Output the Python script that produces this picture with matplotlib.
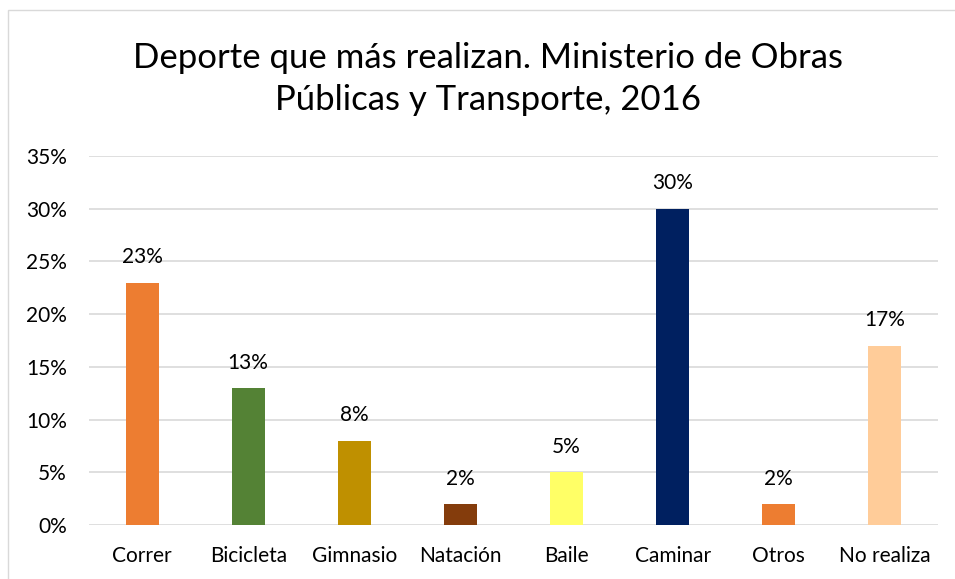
import matplotlib
matplotlib.use("Agg")
import matplotlib.pyplot as plt
from matplotlib.patches import Rectangle
from matplotlib.ticker import PercentFormatter

categories = ["Correr", "Bicicleta", "Gimnasio", "Natación", "Baile", "Caminar", "Otros", "No realiza"]
values = [0.23, 0.13, 0.08, 0.02, 0.05, 0.30, 0.02, 0.17]
colors = ["#ED7D31", "#548235", "#BF9000", "#843C0C", "#FFFF66", "#002060", "#ED7D31", "#FFCC99"]
title = "Deporte que más realizan. Ministerio de Obras\nPúblicas y Transporte, 2016"

plt.rcParams['font.family'] = ['Lato', 'DejaVu Sans']
W, H = 955, 579
fig = plt.figure(figsize=(W / 100, H / 100), dpi=100)
fig.patch.set_facecolor("white")

# chart border
fig.add_artist(Rectangle((8 / W, -0.05), 1.1, 1.05 - 10 / H, transform=fig.transFigure,
                         fill=False, edgecolor="#D9D9D9", linewidth=1.0))

ax = fig.add_axes([89 / W, 1 - 525 / H, (938 - 89) / W, (525 - 156) / H])
x = list(range(len(categories)))
bars = ax.bar(x, values, width=0.31, color=colors, zorder=3)
ax.set_xlim(-0.5, len(categories) - 0.5)
ax.set_ylim(0, 0.35)
ax.set_yticks([0, 0.05, 0.10, 0.15, 0.20, 0.25, 0.30, 0.35])
ax.yaxis.set_major_formatter(PercentFormatter(1.0, decimals=0))
ax.set_xticks(x)
ax.set_xticklabels(categories)
ax.grid(axis="y", color="#D9D9D9", linewidth=1.2, zorder=0)
for s in ax.spines.values():
    s.set_visible(False)
ax.tick_params(axis="both", length=0, labelsize=15, colors="#000000")
ax.tick_params(axis="x", pad=15)
ax.tick_params(axis="y", pad=16)

for xi, v in zip(x, values):
    ax.annotate(f"{round(v * 100):.0f}%", (xi, v), xytext=(0, 11), textcoords="offset points",
                ha="center", va="bottom", fontsize=15, color="#000000")

fig.text(488 / W, 1 - 79 / H, title, ha="center", va="center", fontsize=25,
         linespacing=1.38, color="#000000")

fig.savefig("out.png", dpi=100)
